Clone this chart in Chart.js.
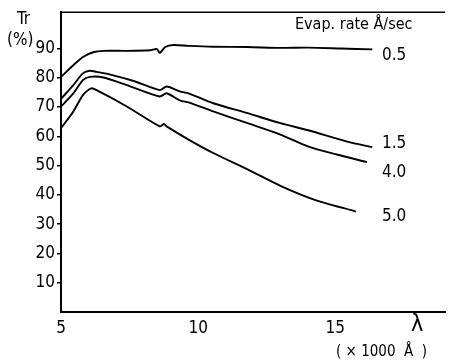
<!DOCTYPE html>
<html lang="en">

<head>
   <meta charset="UTF-8">
   <title>Transmittance vs wavelength</title>
   <style>
      body {
         margin: 0;
         background-color: #ffffff;
      }

      #wrap {
         width: 450px;
         height: 360px;
      }
   </style>
</head>

<body>
   <div id="wrap"><canvas id="myChart"></canvas></div>

   <script src="https://cdn.jsdelivr.net/npm/chart.js"></script>
   <script>
      // wavelength in units of 1000 Å, transmittance in %
      const lambda05 = [5.0, 5.45, 5.8, 6.2, 6.55, 7.4, 8.25, 8.5, 8.6, 8.8, 9.1, 9.65, 10.55, 11.8, 13.0, 14.0, 15.2, 16.35];
      const tr05 = [80.3, 84.3, 87.1, 88.8, 89.2, 89.2, 89.4, 89.8, 88.5, 90.5, 91.2, 90.9, 90.6, 90.5, 90.2, 90.3, 90.0, 89.7];

      const lambda15 = [5.0, 5.45, 5.8, 6.05, 6.3, 6.8, 7.65, 8.6, 8.85, 9.35, 9.65, 10.55, 11.8, 13.0, 14.05, 15.4, 16.35];
      const tr15 = [72.8, 77.5, 81.5, 82.4, 82.0, 81.1, 78.9, 75.8, 77.0, 75.3, 74.7, 71.3, 67.9, 64.5, 62.0, 58.3, 56.3];

      const lambda40 = [5.0, 5.45, 5.8, 6.05, 6.55, 7.4, 8.6, 8.85, 9.35, 9.65, 10.55, 11.8, 13.0, 14.0, 15.05, 16.15];
      const tr40 = [70.2, 74.7, 79.2, 80.3, 80.1, 77.5, 73.6, 74.7, 72.2, 71.6, 68.5, 64.5, 60.6, 56.6, 53.8, 51.2];

      const lambda50 = [5.0, 5.45, 5.8, 6.1, 6.35, 7.4, 8.6, 8.75, 8.85, 9.65, 10.55, 11.8, 13.0, 14.2, 15.75];
      const tr50 = [62.8, 68.5, 74.1, 76.4, 75.5, 70.2, 63.4, 64.2, 63.4, 58.9, 54.3, 48.7, 43.1, 38.5, 34.3];

      const rateLabels = ['0.5', '1.5', '4.0', '5.0'];
      const rateLabelY = [87.6, 57.5, 47.6, 32.5];   // where each rate label sits (Tr %)
      const xTicks = [5, 10, 15];
      const yTicks = [10, 20, 30, 40, 50, 60, 70, 80, 90];

      const FONT = '"Liberation Sans Narrow", "DejaVu Sans Condensed", "Liberation Sans", sans-serif';

      function toPoints(xs, ys) {
         return xs.map((x, i) => ({ x: x, y: ys[i] }));
      }

      const series = [
         toPoints(lambda05, tr05),
         toPoints(lambda15, tr15),
         toPoints(lambda40, tr40),
         toPoints(lambda50, tr50)
      ];

      const data = {
         datasets: series.map((pts, i) => ({
            label: rateLabels[i],
            data: pts,
            borderColor: '#000',
            borderWidth: 1.9,
            pointRadius: 0,
            tension: 0.25,
            fill: false
         }))
      };

      // texts and the top frame line
      const annotations = {
         id: 'annotations',
         afterDraw(chart) {
            const c = chart.ctx;
            const area = chart.chartArea;
            const xs = chart.scales.x;
            const ys = chart.scales.y;
            c.save();
            c.strokeStyle = '#000';
            c.lineWidth = 1.5;
            c.beginPath();
            c.moveTo(area.left, area.top);
            c.lineTo(area.right, area.top);
            c.stroke();

            c.fillStyle = '#000';
            c.textBaseline = 'middle';
            c.textAlign = 'left';
            c.font = '17px ' + FONT;
            rateLabels.forEach((t, i) => {
               c.fillText(t, xs.getPixelForValue(16.7), ys.getPixelForValue(rateLabelY[i]));
            });

            c.font = '16px ' + FONT;
            c.fillText('Evap. rate Å/sec', 295, 25);

            c.font = '17px ' + FONT;
            c.fillText('Tr', 17, 20);
            c.fillText('(%)', 7, 41);

            c.font = '23px ' + FONT;
            c.textAlign = 'center';
            c.fillText('λ', 417, 325);
            c.font = '15px ' + FONT;
            c.textAlign = 'left';
            c.fillText('( × 1000  Å  )', 336, 352);
            c.restore();
         }
      };

      const options = {
         responsive: true,
         maintainAspectRatio: false,
         animation: false,
         layout: {
            padding: { top: 10, right: 5, left: 0, bottom: 0 }
         },
         scales: {
            x: {
               type: 'linear',
               min: 5,
               max: 19,
               afterBuildTicks: function(scale) {
                  scale.ticks = xTicks.map(v => ({ value: v }));
               },
               afterFit: function(scale) { scale.height = 48; },
               ticks: {
                  color: '#000',
                  padding: 6,
                  maxRotation: 0,
                  font: { family: FONT, size: 17 }
               },
               grid: { display: false, drawTicks: false, tickLength: 0 },
               border: { color: '#000', width: 2 }
            },
            y: {
               type: 'linear',
               min: 0,
               max: 102.4,
               afterBuildTicks: function(scale) {
                  scale.ticks = yTicks.map(v => ({ value: v }));
               },
               afterFit: function(scale) { scale.width = 61; },
               ticks: {
                  color: '#000',
                  padding: 2,
                  font: { family: FONT, size: 17 }
               },
               grid: {
                  drawOnChartArea: false,
                  drawTicks: true,
                  tickLength: 4,
                  color: '#000',
                  lineWidth: 1.5
               },
               border: { color: '#000', width: 2 }
            }
         },
         plugins: {
            legend: { display: false },
            tooltip: { enabled: false }
         }
      };

      const myChart = new Chart(document.getElementById('myChart'), {
         type: 'line',
         data: data,
         options: options,
         plugins: [annotations]
      });
   </script>
</body>

</html>
